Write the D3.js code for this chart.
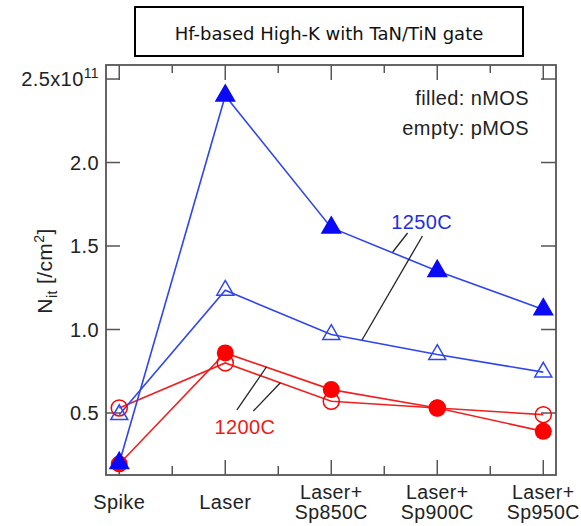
<!DOCTYPE html>
<html>
<head>
<meta charset="utf-8">
<script src="https://cdn.jsdelivr.net/npm/d3@7.9.0/dist/d3.min.js"></script>
<style>
  body { margin: 0; background: #fff; }
  svg text { font-family: "Liberation Sans", Arial, sans-serif; fill: #222; letter-spacing: 0.4px; }
</style>
</head>
<body>
<svg id="chart" width="581" height="526"></svg>
<script>
// x categories (two-line labels split by \n)
const categories = ['Spike', 'Laser', 'Laser+\nSp850C', 'Laser+\nSp900C', 'Laser+\nSp950C'];

// Nit in units of 1e11 /cm^2
const nmos1250 = [0.20, 2.40, 1.61, 1.35, 1.12];
const pmos1250 = [0.49, 1.235, 0.97, 0.85, 0.745];
const nmos1200 = [0.195, 0.86, 0.64, 0.53, 0.39];
const pmos1200 = [0.53, 0.80, 0.57, 0.53, 0.49];

const yTicks = [0.5, 1.0, 1.5, 2.0, 2.5];

// leader lines for the temperature labels, [x index, value]
const leaders1250 = [[[2.72, 1.578], [2.58, 1.464]], [[2.86, 1.560], [2.29, 0.937]]];
const leaders1200 = [[[1.39, 0.777], [1.11, 0.518]], [[1.52, 0.681], [1.265, 0.512]]];

const svg = d3.select('#chart');

const mLeft = 106, mRight = 556, mTop = 65, mBottom = 475;
const x = d3.scaleLinear().domain([-0.125, 4.12]).range([mLeft, mRight]);
const y = d3.scaleLinear().domain([0.1287, 2.584]).range([mBottom, mTop]);

const blueLine = '#2f45f0', blueMark = '#0a0af5';
const redLine = '#f02020', redMark = '#ff0000';
const frame = '#555';
const fs = '20px';

// title box
svg.append('rect')
  .attr('x', 135).attr('y', 7).attr('width', 388).attr('height', 49)
  .attr('fill', '#fff').attr('stroke', '#000').attr('stroke-width', 2);
svg.append('text')
  .attr('x', 329).attr('y', 40)
  .attr('text-anchor', 'middle')
  .style('font-family', '"DejaVu Sans", Verdana, sans-serif')
  .style('font-size', '18px')
  .style('letter-spacing', '0px')
  .style('fill', '#111')
  .text('Hf-based High-K with TaN/TiN gate');

// ticks (inward on all four sides)
const g = svg.append('g');
const xMajor = d3.range(categories.length);
const xMinor = xMajor.slice(0, -1).map(d => d + 0.5);

xMajor.forEach(d => {
  g.append('line').attr('x1', x(d)).attr('x2', x(d)).attr('y1', mBottom).attr('y2', mBottom - 15);
  g.append('line').attr('x1', x(d)).attr('x2', x(d)).attr('y1', mTop).attr('y2', mTop + 15);
});
xMinor.forEach(d => {
  g.append('line').attr('x1', x(d)).attr('x2', x(d)).attr('y1', mBottom).attr('y2', mBottom - 9);
  g.append('line').attr('x1', x(d)).attr('x2', x(d)).attr('y1', mTop).attr('y2', mTop + 8);
});
yTicks.forEach(d => {
  g.append('line').attr('x1', mLeft).attr('x2', mLeft + 14).attr('y1', y(d)).attr('y2', y(d));
  g.append('line').attr('x1', mRight).attr('x2', mRight - 15).attr('y1', y(d)).attr('y2', y(d));
});
g.selectAll('line').attr('stroke', frame).attr('stroke-width', 1.5);

svg.append('rect')
  .attr('x', mLeft).attr('y', mTop).attr('width', mRight - mLeft).attr('height', mBottom - mTop)
  .attr('fill', 'none').attr('stroke', frame).attr('stroke-width', 1.8);

// y tick labels
yTicks.forEach(d => {
  const t = svg.append('text')
    .attr('x', 99).attr('y', y(d) + 7)
    .attr('text-anchor', 'end')
    .style('font-size', fs);
  if (d === 2.5) {
    t.append('tspan').text('2.5x10');
    t.append('tspan').attr('dy', -8).style('font-size', '14px').text('11');
  } else {
    t.text(d.toFixed(1));
  }
});

// y axis title
const yl = svg.append('text')
  .attr('transform', 'translate(52,271) rotate(-90)')
  .attr('text-anchor', 'middle')
  .style('font-size', '21px');
yl.append('tspan').text('N');
yl.append('tspan').attr('dy', 5).style('font-size', '14px').text('it');
yl.append('tspan').attr('dy', -5).text(' [/cm');
yl.append('tspan').attr('dy', -8).style('font-size', '14px').text('2');
yl.append('tspan').attr('dy', 8).text(']');

// x tick labels, one text per line
categories.forEach((c, i) => {
  const lines = c.split('\n');
  lines.forEach((l, k) => {
    svg.append('text')
      .attr('x', x(i))
      .attr('y', lines.length === 1 ? 509 : 499 + k * 20)
      .attr('text-anchor', 'middle')
      .style('font-size', lines.length === 1 ? fs : '19.5px')
      .text(l);
  });
});

// series lines
const line = d3.line().x((d, i) => x(i)).y(d => y(d));
function drawLine(data, color) {
  svg.append('path').datum(data).attr('d', line)
    .attr('fill', 'none').attr('stroke', color).attr('stroke-width', 1.6);
}
drawLine(pmos1200, redLine);
drawLine(nmos1200, redLine);
drawLine(pmos1250, blueLine);
drawLine(nmos1250, blueLine);

// markers
function drawCircles(data, filled) {
  svg.append('g').selectAll('circle').data(data).join('circle')
    .attr('cx', (d, i) => x(i)).attr('cy', d => y(d)).attr('r', filled ? 8.5 : 8)
    .attr('fill', filled ? redMark : 'none')
    .attr('stroke', redMark).attr('stroke-width', filled ? 0 : 1.5);
}
const tri = d3.symbol().type(d3.symbolTriangle);
function drawTriangles(data, filled) {
  svg.append('g').selectAll('path').data(data).join('path')
    .attr('transform', (d, i) => `translate(${x(i)},${y(d)})`)
    .attr('d', tri.size(filled ? 150 : 125)())
    .attr('fill', filled ? blueMark : 'none')
    .attr('stroke', filled ? blueMark : blueLine).attr('stroke-width', 1.5);
}
drawCircles(pmos1200, false);
drawCircles(nmos1200, true);
drawTriangles(pmos1250, false);
drawTriangles(nmos1250, true);

// leader lines and temperature labels
[...leaders1250, ...leaders1200].forEach(seg => {
  svg.append('line')
    .attr('x1', x(seg[0][0])).attr('y1', y(seg[0][1]))
    .attr('x2', x(seg[1][0])).attr('y2', y(seg[1][1]))
    .attr('stroke', '#222').attr('stroke-width', 1.3);
});
svg.append('text').attr('x', x(2.853)).attr('y', y(1.645) + 7)
  .attr('text-anchor', 'middle').style('font-size', fs).style('fill', '#1f2ee0')
  .text('1250C');
svg.append('text').attr('x', x(1.186)).attr('y', y(0.414) + 7)
  .attr('text-anchor', 'middle').style('font-size', fs).style('fill', '#f01818')
  .text('1200C');

// legend note
svg.append('text').attr('x', 529).attr('y', 105).attr('text-anchor', 'end')
  .style('font-size', fs).text('filled: nMOS');
svg.append('text').attr('x', 529).attr('y', 135).attr('text-anchor', 'end')
  .style('font-size', fs).text('empty: pMOS');
</script>
</body>
</html>
